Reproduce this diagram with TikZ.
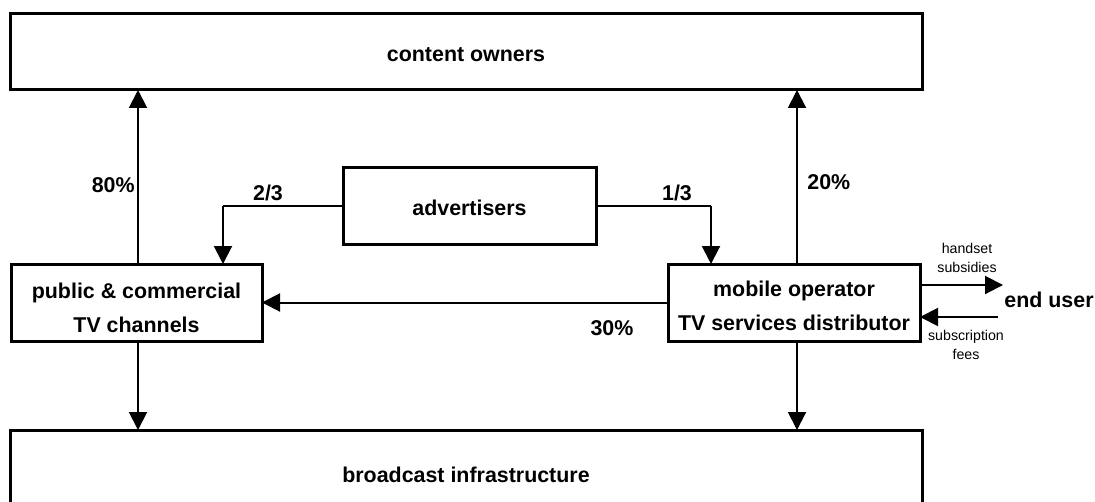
\documentclass[tikz,border=0pt]{standalone}
\usepackage{fontspec}
\setmainfont{Liberation Sans}
\usetikzlibrary{arrows.meta}
\begin{document}
\begin{tikzpicture}[x=0.5pt,y=-0.5pt,
 box/.style={draw, line width=1.5pt, inner sep=0pt, outer sep=0pt},
 btext/.style={inner sep=0pt, align=center, font=\fontsize{10.7}{17}\selectfont\bfseries},
 lbl/.style={inner sep=0pt, font=\fontsize{10.7}{13}\selectfont\bfseries},
 small/.style={inner sep=0pt, align=center, font=\fontsize{7.1}{9.5}\selectfont},
 arr/.style={line width=1pt, -{Triangle[width=9pt,length=9pt]}},
 thinline/.style={line width=0.6pt}]
\useasboundingbox (0,0) rectangle (1095,502);
\clip (0,0) rectangle (1095,502);
\node[box, minimum width=456pt, minimum height=38pt] (co) at (466,52) {};
\node[btext] (cot) at ([yshift=-1.5pt]co.center) {content owners};
\node[box, minimum width=456pt, minimum height=43pt] (bi) at (466,473) {};
\node[btext] (bit) at ([yshift=-1pt]bi.center) {broadcast infrastructure};
\node[box, minimum width=126.5pt, minimum height=38pt] (ad) at (469.5,206) {};
\node[btext] (adt) at ([yshift=-0.75pt]ad.center) {advertisers};
\node[box, minimum width=125.5pt, minimum height=38.5pt] (pc) at (136.5,302.5) {};
\node[btext] (pct) at ([yshift=-2.5pt]pc.center) {public \& commercial\\TV channels};
\node[box, minimum width=126pt, minimum height=38.5pt] (mo) at (794,302.5) {};
\node[btext] (mot) at ([yshift=-1.5pt]mo.center) {mobile operator\\TV services distributor};
\node[lbl, anchor=west] (eu) at (1004,300) {end user};
% vertical flows
\draw[arr] ([xshift=0.75pt]pc.north) -- ([xshift=0.75pt]pc.north |- co.south);
\draw[arr] ([xshift=0.75pt]pc.south) -- ([xshift=0.75pt]pc.south |- bi.north);
\draw[arr] ([xshift=1.5pt]mo.north) -- ([xshift=1.5pt]mo.north |- co.south);
\draw[arr] ([xshift=1.5pt]mo.south) -- ([xshift=1.5pt]mo.south |- bi.north);
% advertisers
\coordinate (al) at (223,206);
\coordinate (ar) at (711,206);
\draw[thinline] (ad.west) -- (al);
\draw[arr] (al) -- (al |- pc.north);
\draw[thinline] (ad.east) -- (ar);
\draw[arr] (ar) -- (ar |- mo.north);
% mobile to public
\draw[arr] (mo.west) -- (pc.east);
% end user
\coordinate (hs) at (1003,285);
\coordinate (sf) at (998,317);
\draw[arr] (hs -| mo.east) -- (hs);
\draw[arr] (sf) -- (sf -| mo.east);
% labels
\node[lbl, anchor=east] (l80) at (135,185) {80\%};
\node[lbl] (l23) at (268,193) {2/3};
\node[lbl] (l13) at (677,193) {1/3};
\node[lbl, anchor=west] (l20) at (807,182) {20\%};
\node[lbl] (l30) at (612,328) {30\%};
\node[small] (hsl) at (967,257.5) {handset\\subsidies};
\node[small] (sfl) at (966,345) {subscription\\fees};
\end{tikzpicture}
\end{document}
